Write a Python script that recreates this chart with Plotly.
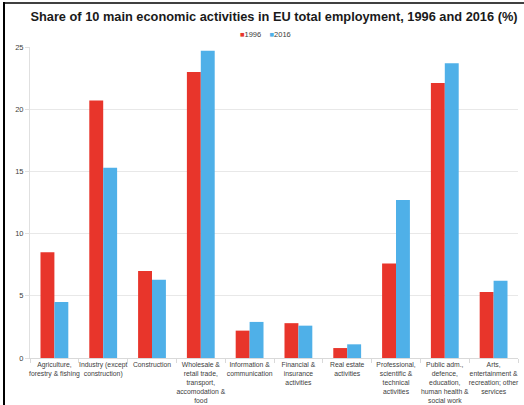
import plotly.graph_objects as go

categories = [
    "Agriculture,<br>forestry & fishing",
    "Industry (except<br>construction)",
    "Construction",
    "Wholesale &<br>retail trade,<br>transport,<br>accomodation &<br>food",
    "Information &<br>communication",
    "Financial &<br>insurance<br>activities",
    "Real estate<br>activities",
    "Professional,<br>scientific &<br>technical<br>activities",
    "Public adm.,<br>defence,<br>education,<br>human health &<br>social work",
    "Arts,<br>entertainment &<br>recreation; other<br>services",
]
series_names = ["1996", "2016"]
values_1996 = [8.5, 20.7, 7.0, 23.0, 2.2, 2.8, 0.8, 7.6, 22.1, 5.3]
values_2016 = [4.5, 15.3, 6.3, 24.7, 2.9, 2.6, 1.1, 12.7, 23.7, 6.2]
y_ticks = [0, 5, 10, 15, 20, 25]
colors = ["#E8352B", "#4FB0E8"]

W, H = 524, 405
ML, MR, MT, MB = 30, 6, 47, 47
pw = W - ML - MR
ph = H - MT - MB

fig = go.Figure()
fig.add_trace(go.Bar(x=categories, y=values_1996, name=series_names[0], marker_color=colors[0],
                     marker_line_width=0, showlegend=False))
fig.add_trace(go.Bar(x=categories, y=values_2016, name=series_names[1], marker_color=colors[1],
                     marker_line_width=0, showlegend=False))

def px_x(p):
    return (p - ML) / pw

def px_y(p):
    return (H - MB - p) / ph

legend_text = (f"<span style='color:{colors[0]}'>■</span>{series_names[0]}"
               f"<span style='color:white'>__</span>"
               f"<span style='color:{colors[1]}'>■</span>{series_names[1]}")

fig.update_layout(
    width=W, height=H,
    margin=dict(l=ML, r=MR, t=MT, b=MB, autoexpand=False),
    paper_bgcolor="white", plot_bgcolor="white",
    barmode="group", bargap=0.43, bargroupgap=0,
    font=dict(family="Liberation Sans, Arial, sans-serif", color="#404040"),
    title=dict(text="<b>Share of 10 main economic activities in EU total employment, 1996 and 2016 (%)</b>",
               x=0.5, xref="paper", xanchor="center", y=1 - 17 / H, yanchor="middle",
               font=dict(size=12.8, color="#1a1a1a")),
    showlegend=False,
    annotations=[dict(text=legend_text, xref="paper", yref="paper", x=px_x(265), y=px_y(35),
                      xanchor="center", yanchor="middle", showarrow=False,
                      font=dict(size=7.5, color="#404040"))],
    xaxis=dict(showgrid=False, showline=True, linecolor="#d9d9d9", linewidth=1,
               ticks="outside", tickson="boundaries", ticklen=4, tickcolor="#d9d9d9",
               tickfont=dict(size=6.8, color="#404040"), tickangle=0),
    yaxis=dict(range=[0, 25], tickvals=y_ticks, showgrid=True, gridcolor="#e8e8e8", gridwidth=1,
               showline=True, linecolor="#e0e0e0", ticks="outside", ticklen=4, tickcolor="#e0e0e0",
               tickfont=dict(size=7.5, color="#404040"), zeroline=False),
    shapes=[
        dict(type="line", xref="paper", yref="paper", x0=px_x(4), x1=px_x(4), y0=px_y(2), y1=px_y(405),
             line=dict(color="black", width=2)),
        dict(type="line", xref="paper", yref="paper", x0=px_x(3), x1=px_x(524), y0=px_y(3), y1=px_y(3),
             line=dict(color="black", width=1.5)),
    ],
)

fig.write_html("out.html", config={"displayModeBar": False},
               post_script="document.body.style.margin='0';document.body.style.overflow='hidden';")
